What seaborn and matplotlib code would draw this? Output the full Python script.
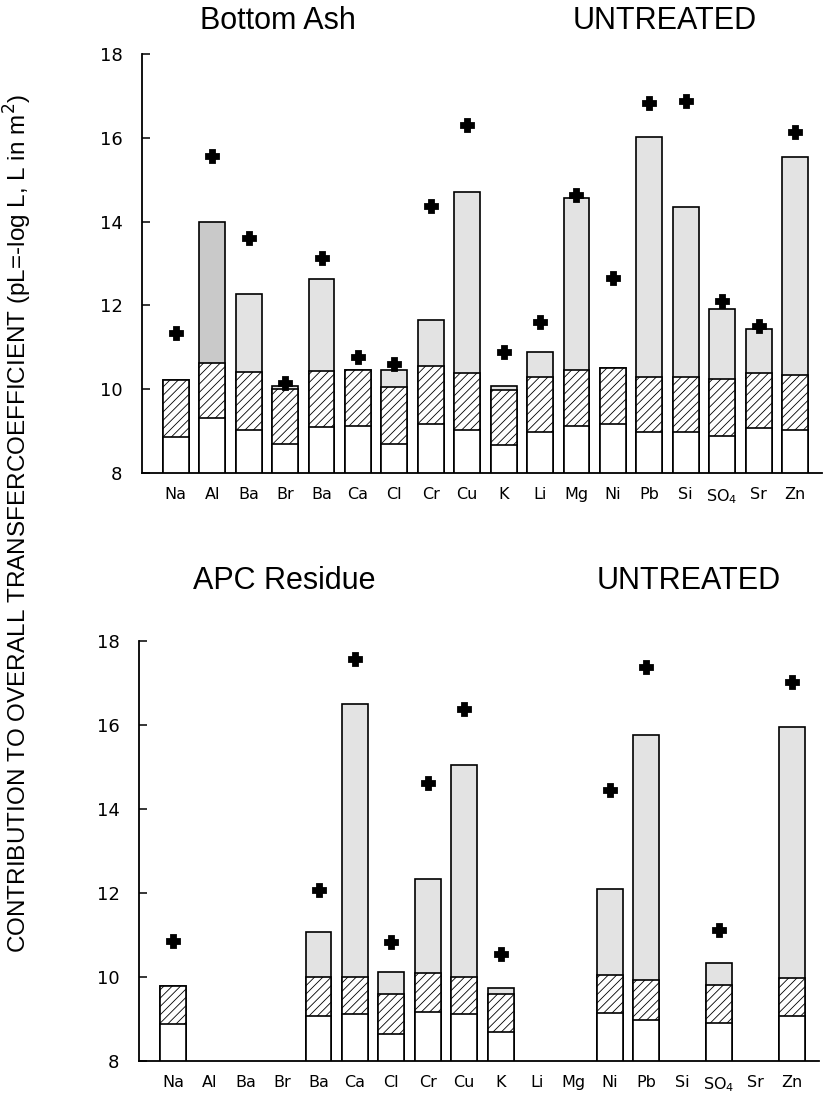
import numpy as np
import pandas as pd
import matplotlib
matplotlib.use("Agg")
import matplotlib.pyplot as plt
import seaborn as sns

nan = np.nan

elements = ["Na", "Al", "Ba", "Br", "Ba", "Ca", "Cl", "Cr", "Cu", "K", "Li",
            "Mg", "Ni", "Pb", "Si", "SO$_4$", "Sr", "Zn"]

# Bottom Ash, untreated (pL values)
ash_base = [8.87, 9.31, 9.02, 8.69, 9.09, 9.11, 8.68, 9.18, 9.03, 8.67, 8.97,
            9.13, 9.16, 8.97, 8.97, 8.89, 9.07, 9.03]
ash_mid = [10.21, 10.63, 10.40, 10.01, 10.44, 10.46, 10.05, 10.55, 10.39, 9.98,
           10.30, 10.47, 10.50, 10.30, 10.30, 10.24, 10.39, 10.35]
ash_total = [10.21, 13.99, 12.28, 10.07, 12.63, 10.46, 10.45, 11.66, 14.70,
             10.08, 10.88, 14.56, 10.50, 16.01, 14.36, 11.91, 11.44, 15.53]
ash_overall = [11.34, 15.57, 13.60, 10.15, 13.13, 10.78, 10.61, 14.38, 16.30,
               10.88, 11.61, 14.63, 12.65, 16.82, 16.89, 12.11, 11.52, 16.15]

# APC residue, untreated (pL values)
apc_base = [8.87, nan, nan, nan, 9.08, 9.13, 8.64, 9.17, 9.13, 8.69, nan, nan,
            9.15, 8.98, nan, 8.90, nan, 9.07]
apc_mid = [9.79, nan, nan, nan, 9.99, 9.99, 9.59, 10.09, 10.00, 9.60, nan, nan,
           10.05, 9.92, nan, 9.80, nan, 9.97]
apc_total = [9.79, nan, nan, nan, 11.06, 16.50, 10.13, 12.33, 15.04, 9.73, nan,
             nan, 12.10, 15.75, nan, 10.33, nan, 15.95]
apc_overall = [10.86, nan, nan, nan, 12.06, 17.57, 10.83, 14.61, 16.39, 10.54,
               nan, nan, 14.45, 17.38, nan, 11.12, nan, 17.03]

yticks = [8, 10, 12, 14, 16, 18]

sns.set_style("ticks")
plt.rcParams["font.family"] = ["DejaVu Sans"]
plt.rcParams["hatch.linewidth"] = 0.6
for k in ["text.color", "axes.labelcolor", "xtick.color", "ytick.color",
          "axes.edgecolor"]:
    plt.rcParams[k] = "black"

fig = plt.figure(figsize=(8.25, 11.09), dpi=100)
ax_top = fig.add_axes([0.1721, 0.5735, 0.8242, 0.3778])
ax_bot = fig.add_axes([0.1685, 0.0433, 0.8242, 0.3787])

keys = [str(i) for i in range(len(elements))]


def panel(ax, base, mid, total, overall, dark_key=None):
    df = pd.DataFrame({"key": keys, "base": base, "mid": mid,
                       "total": total, "overall": overall}).dropna()
    common = dict(x="key", order=keys, width=0.71, errorbar=None,
                  saturation=1, edgecolor="black", linewidth=1.2, ax=ax)
    sns.barplot(data=df, y="total", color="#e3e3e3", **common)
    if dark_key is not None:
        idx = list(df["key"]).index(dark_key)
        ax.patches[idx].set_facecolor("#c9c9c9")
    sns.barplot(data=df, y="mid", color="white", hatch="////", **common)
    sns.barplot(data=df, y="base", color="white", **common)
    sns.pointplot(data=df, x="key", y="overall", order=keys, color="black",
                  markers="P", linestyle="none", markersize=8.5,
                  errorbar=None, ax=ax, zorder=5)
    ax.set_xlim(-0.93, 17.74)
    ax.set_ylim(8, 18)
    ax.set_yticks(yticks)
    ax.set_yticklabels([str(t) for t in yticks], fontsize=13)
    ax.set_xticks(range(len(elements)))
    ax.set_xticklabels(elements, fontsize=11.5)
    ax.tick_params(axis="x", length=0, pad=10)
    ax.tick_params(axis="y", direction="in", length=6, width=1.1, pad=14)
    for s in ["top", "right"]:
        ax.spines[s].set_visible(False)
    for s in ["left", "bottom"]:
        ax.spines[s].set_linewidth(1.3)
    ax.set_xlabel("")
    ax.set_ylabel("")


panel(ax_top, ash_base, ash_mid, ash_total, ash_overall, dark_key="1")
panel(ax_bot, apc_base, apc_mid, apc_total, apc_overall)

tfont = dict(fontsize=22, family=["Liberation Sans"], va="center", ha="left")
H = 1109.0
W = 825.0
fig.text(200 / W, 1 - 21 / H, "Bottom Ash", **tfont)
fig.text(573 / W, 1 - 21 / H, "UNTREATED", **tfont)
fig.text(193 / W, 1 - 581 / H, "APC Residue", **tfont)
fig.text(597 / W, 1 - 581 / H, "UNTREATED", **tfont)

fig.text(18 / W, 1 - 523 / H,
         "CONTRIBUTION TO OVERALL TRANSFERCOEFFICIENT (pL=-log L, L in m$^2$)",
         rotation=90, va="center", ha="center", fontsize=17.5,
         family=["Liberation Sans"])

fig.savefig("out.png", dpi=100)
